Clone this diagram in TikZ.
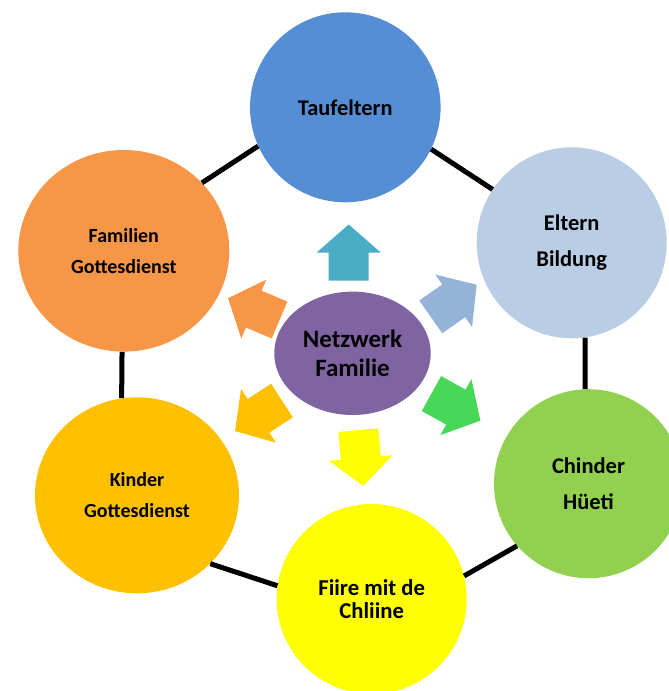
\documentclass[tikz,border=0pt]{standalone}
\usepackage{fontspec}
\setmainfont{Carlito}
\usetikzlibrary{shapes.geometric}
\definecolor{ctauf}{HTML}{558ED5}
\definecolor{celt}{HTML}{B9CDE5}
\definecolor{cgrn}{HTML}{92D050}
\definecolor{cyel}{HTML}{FFFF00}
\definecolor{ckin}{HTML}{FFC000}
\definecolor{cfam}{HTML}{F79646}
\definecolor{cmid}{HTML}{8064A2}
\definecolor{aup}{HTML}{4BACC6}
\definecolor{aur}{HTML}{95B3D7}
\definecolor{alr}{HTML}{48D858}
\begin{document}
\begin{tikzpicture}[x=1pt,y=-1pt,
  bub/.style={ellipse, inner sep=0pt, align=center, text=black},
  link/.style={line width=5pt, black},
  blockarrow/.pic={\fill[#1] (-28,-20) -- (0,-20) -- (0,-32) -- (28,0) -- (0,32) -- (0,20) -- (-28,20) -- cycle;}]
\useasboundingbox (0,0) rectangle (669,691);
\clip (0,0) rectangle (669,691);
\fill[white] (0,0) rectangle (669,691);

\node[bub, fill=ctauf, minimum width=190.6pt, minimum height=190pt,
  font=\fontsize{22.4}{27}\selectfont\bfseries] (tauf) at (345.3,107.3) {Taufeltern};
\node[bub, fill=celt, minimum width=190pt, minimum height=191pt,
  font=\fontsize{22.5}{35.7}\selectfont\bfseries] (elt) at (571.7,242.8) {Eltern\\Bildung};
\node[bub, fill=cgrn, minimum width=189pt, minimum height=189pt,
  font=\fontsize{22.5}{36.3}\selectfont\bfseries] (grn) at (588.5,483.7) {Chinder\\Hüeti};
\node[bub, fill=cyel, minimum width=190pt, minimum height=190pt,
  font=\fontsize{22.7}{23.7}\selectfont\bfseries] (yel) at (371.7,599) {Fiire mit de\\Chliine};
\node[bub, fill=ckin, minimum width=204pt, minimum height=196pt,
  font=\fontsize{20}{31}\selectfont\bfseries] (kin) at (137,495.3) {Kinder\\Gottesdienst};
\node[bub, fill=cfam, minimum width=211pt, minimum height=201.6pt,
  font=\fontsize{20}{30.7}\selectfont\bfseries] (fam) at (123.8,250.8) {Familien\\Gottesdienst};
\node[bub, fill=cmid, minimum width=156.4pt, minimum height=123.4pt,
  font=\fontsize{25}{28.5}\selectfont\bfseries] (mid) at (352.5,353.3) {Netzwerk\\Familie};

\pic[rotate=90] at (348.7,252.5) {blockarrow=aup};
\pic[rotate=35] at (453.7,300.8) {blockarrow=aur};
\pic[rotate=-29] at (455.9,407.1) {blockarrow=alr};
\pic[rotate=-85] at (360.8,458) {blockarrow=cyel};
\pic[rotate=-147] at (258.5,415.8) {blockarrow=ckin};
\pic[rotate=157] at (253.8,309.1) {blockarrow=cfam};

\draw[link] (fam.41) -- (tauf.204);
\draw[link] (tauf.-26) -- (elt.146);
\draw[link] (elt.-82) -- (grn.92);
\draw[link] (grn.221) -- (yel.14);
\draw[link] (yel.172) -- (kin.-43);
\draw[link] (kin.99) -- (fam.-91);
\end{tikzpicture}
\end{document}
